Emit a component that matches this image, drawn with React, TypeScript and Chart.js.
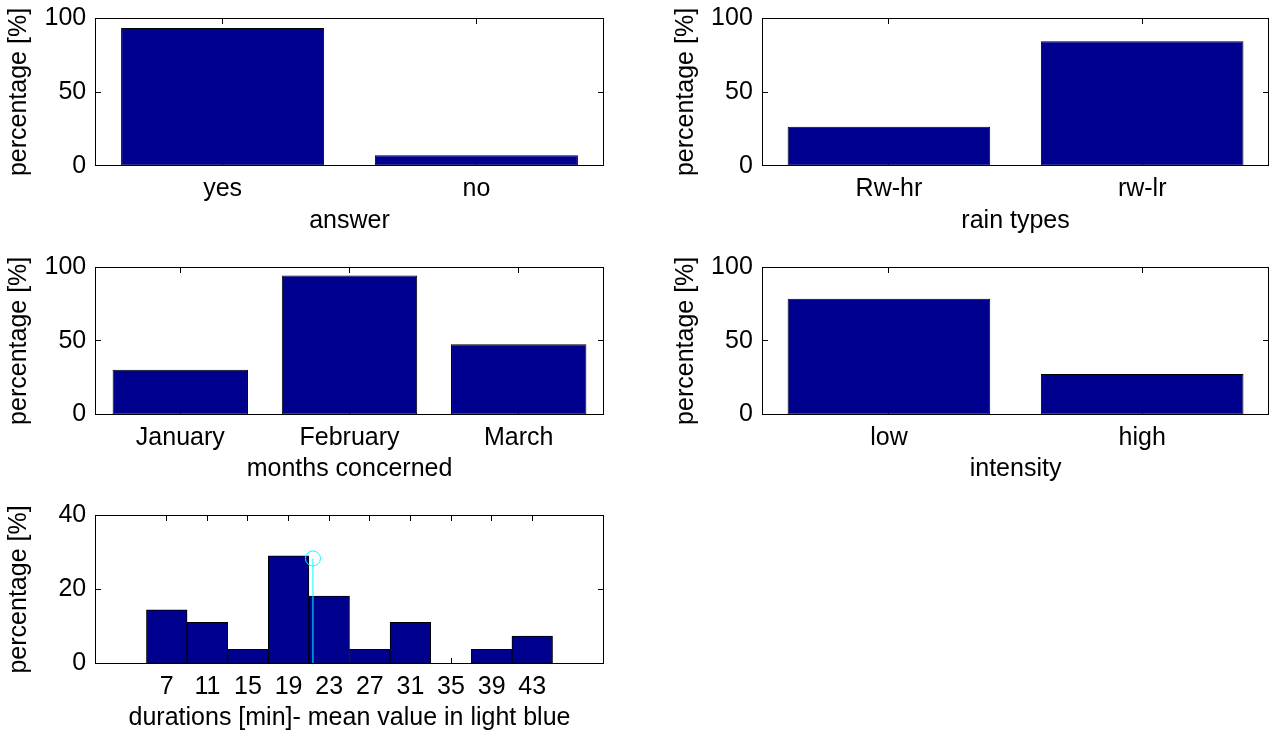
import React, { useEffect, useRef } from 'react';
import { Chart, registerables } from 'chart.js';

Chart.register(...registerables);

// ---------- data ----------
const answerLabels = ['yes', 'no'];
const answerValues = [93.5, 7.1];

const rainTypeLabels = ['Rw-hr', 'rw-lr'];
const rainTypeValues = [26.5, 84.5];

const monthLabels = ['January', 'February', 'March'];
const monthValues = [30.4, 94.3, 47.6];

const intensityLabels = ['low', 'high'];
const intensityValues = [78.6, 27.5];

const durationBins = [7, 11, 15, 19, 23, 27, 31, 35, 39, 43];
const durationValues = [14.5, 11.1, 3.8, 29.1, 18.2, 3.8, 11.1, 0, 3.8, 7.4];
const durationMean = 21.4;
const durationMeanMarker = 28.4;
const durationRange = [0, 50];

const percentMax = 100;
const percentStep = 50;
const durationPercentMax = 40;
const durationPercentStep = 20;

const Y_TITLE = 'percentage [%]';
const X_TITLES = ['answer', 'rain types', 'months concerned', 'intensity', 'durations [min]- mean value in light blue'];

// ---------- styles ----------
const FONT_FAMILY = "'Liberation Sans', Arial, Helvetica, sans-serif";
const FONT = { family: FONT_FAMILY, size: 25, lineHeight: 1.2 };
const BAR_COLOR = 'rgb(0,0,143)';
const MEAN_COLOR = '#00FFFF';
const TICK_LEN = 5.5;

const snap = (v: number) => Math.floor(v) + 0.5;

const matlabAxes = {
  id: 'matlabAxes',
  beforeDatasetsDraw(chart: any) {
    const { ctx, chartArea: a } = chart;
    const xs = chart.scales.x;
    const ys = chart.scales.y;
    const l = snap(a.left), r = snap(a.right), t = snap(a.top), b = snap(a.bottom);
    ctx.save();
    ctx.strokeStyle = '#000';
    ctx.lineWidth = 1;
    ctx.beginPath();
    ys.ticks.forEach((_: any, i: number) => {
      const py = snap(ys.getPixelForTick(i));
      ctx.moveTo(l, py); ctx.lineTo(l + TICK_LEN, py);
      ctx.moveTo(r, py); ctx.lineTo(r - TICK_LEN, py);
    });
    xs.ticks.forEach((_: any, i: number) => {
      const px = snap(xs.getPixelForTick(i));
      ctx.moveTo(px, b); ctx.lineTo(px, b - TICK_LEN);
      ctx.moveTo(px, t); ctx.lineTo(px, t + TICK_LEN);
    });
    ctx.stroke();
    ctx.restore();
  },
  afterDatasetsDraw(chart: any) {
    const { ctx, chartArea: a } = chart;
    const l = snap(a.left), r = snap(a.right), t = snap(a.top), b = snap(a.bottom);
    ctx.save();
    ctx.strokeStyle = '#000';
    ctx.lineWidth = 1;
    ctx.strokeRect(l, t, r - l, b - t);
    ctx.restore();
  },
};

const yTitlePlugin = {
  id: 'yTitle',
  afterDraw(chart: any, _args: any, opts: any) {
    if (!opts || !opts.text) return;
    const { ctx, chartArea } = chart;
    ctx.save();
    ctx.translate(opts.x, (chartArea.top + chartArea.bottom) / 2);
    ctx.rotate(-Math.PI / 2);
    ctx.font = `${FONT.size}px ${FONT_FAMILY}`;
    ctx.fillStyle = '#000';
    ctx.textAlign = 'center';
    ctx.textBaseline = 'middle';
    ctx.fillText(opts.text, 0, 0);
    ctx.restore();
  },
};

type Pane = {
  left: number; top: number; w: number; h: number;
  padTop: number; padRight: number; yWidth: number; xHeight: number;
};

const LEFT_COL = { left: 0, w: 606, yWidth: 95.7, padRight: 2.7 };
const RIGHT_COL = { left: 667, w: 603, yWidth: 95.3, padRight: 1.2 };
const ROW1 = { top: 0, h: 240, padTop: 18.3, xHeight: 74.3 };
const ROW2 = { top: 249, h: 240, padTop: 18.1, xHeight: 74.5 };
const ROW3 = { top: 497, h: 236, padTop: 18.6, xHeight: 69.7 };

const TITLE_OFFSET = 55;
const Y_TITLE_X = 19.5;

function baseOptions(p: Pane, xTitle: string, yMax: number, yStep: number): any {
  return {
    animation: false,
    responsive: false,
    devicePixelRatio: 1,
    layout: { autoPadding: false, padding: { top: p.padTop, right: p.padRight, left: 0, bottom: 0 } },
    plugins: {
      legend: { display: false },
      tooltip: { enabled: false },
      yTitle: { text: Y_TITLE, x: Y_TITLE_X },
    },
    scales: {
      x: {
        grid: { display: false, drawTicks: false },
        border: { display: false },
        ticks: { font: FONT, color: '#000', padding: 8.5, autoSkip: false, maxRotation: 0, minRotation: 0 },
        title: {
          display: true, text: xTitle, font: FONT, color: '#000',
          padding: { top: 0, bottom: p.xHeight - TITLE_OFFSET - FONT.size * FONT.lineHeight / 2 },
        },
        afterFit: (s: any) => { s.height = p.xHeight; s.paddingLeft = 0; s.paddingRight = 0; },
      },
      y: {
        min: 0, max: yMax,
        grid: { display: false, drawTicks: false },
        border: { display: false },
        ticks: { stepSize: yStep, font: FONT, color: '#000', padding: 9.5 },
        afterFit: (s: any) => { s.width = p.yWidth; s.paddingTop = 0; s.paddingBottom = 0; },
      },
    },
  };
}

function categoryConfig(p: Pane, labels: string[], values: number[], xTitle: string): any {
  return {
    type: 'bar',
    data: {
      labels,
      datasets: [{
        data: values,
        backgroundColor: BAR_COLOR,
        borderColor: '#000',
        borderWidth: 1,
        borderSkipped: false,
        barPercentage: 0.8,
        categoryPercentage: 1,
      }],
    },
    options: baseOptions(p, xTitle, percentMax, percentStep),
    plugins: [matlabAxes, yTitlePlugin],
  };
}

function histogramConfig(p: Pane): any {
  const opts = baseOptions(p, X_TITLES[4], durationPercentMax, durationPercentStep);
  opts.scales.x = {
    ...opts.scales.x,
    type: 'linear',
    min: durationRange[0],
    max: durationRange[1],
    offset: false,
    afterBuildTicks: (s: any) => { s.ticks = durationBins.map((v) => ({ value: v })); },
    ticks: { ...opts.scales.x.ticks, callback: (v: any) => String(v) },
  };
  return {
    type: 'bar',
    data: {
      datasets: [
        {
          type: 'line',
          order: 0,
          data: [{ x: durationMean, y: 0 }, { x: durationMean, y: durationMeanMarker }],
          borderColor: MEAN_COLOR,
          borderWidth: 1,
          pointRadius: [0, 7.5],
          pointBorderColor: MEAN_COLOR,
          pointBackgroundColor: 'rgba(0,0,0,0)',
          pointBorderWidth: 1,
          fill: false,
        },
        {
          type: 'bar',
          order: 1,
          data: durationBins.map((x, i) => ({ x, y: durationValues[i] })),
          backgroundColor: BAR_COLOR,
          borderColor: '#000',
          borderWidth: 1,
          borderSkipped: false,
          barPercentage: 1,
          categoryPercentage: 1,
        },
      ],
    },
    options: opts,
    plugins: [matlabAxes, yTitlePlugin],
  };
}

const panes: { pane: Pane; build: (p: Pane) => any }[] = [
  { pane: { ...LEFT_COL, ...ROW1 }, build: (p) => categoryConfig(p, answerLabels, answerValues, X_TITLES[0]) },
  { pane: { ...RIGHT_COL, ...ROW1 }, build: (p) => categoryConfig(p, rainTypeLabels, rainTypeValues, X_TITLES[1]) },
  { pane: { ...LEFT_COL, ...ROW2 }, build: (p) => categoryConfig(p, monthLabels, monthValues, X_TITLES[2]) },
  { pane: { ...RIGHT_COL, ...ROW2 }, build: (p) => categoryConfig(p, intensityLabels, intensityValues, X_TITLES[3]) },
  { pane: { ...LEFT_COL, ...ROW3 }, build: (p) => histogramConfig(p) },
];

function Panel({ pane, build }: { pane: Pane; build: (p: Pane) => any }) {
  const ref = useRef<HTMLCanvasElement>(null);
  useEffect(() => {
    if (!ref.current) return;
    const chart = new Chart(ref.current, build(pane));
    return () => chart.destroy();
  }, []);
  return (
    <canvas
      ref={ref}
      width={pane.w}
      height={pane.h}
      style={{ position: 'absolute', left: pane.left, top: pane.top, width: pane.w, height: pane.h }}
    />
  );
}

export default function App() {
  return (
    <div style={{ position: 'absolute', left: 0, top: 0, width: 1270, height: 733, background: '#fff', overflow: 'hidden' }}>
      {panes.map((p, i) => (
        <Panel key={i} pane={p.pane} build={p.build} />
      ))}
    </div>
  );
}
